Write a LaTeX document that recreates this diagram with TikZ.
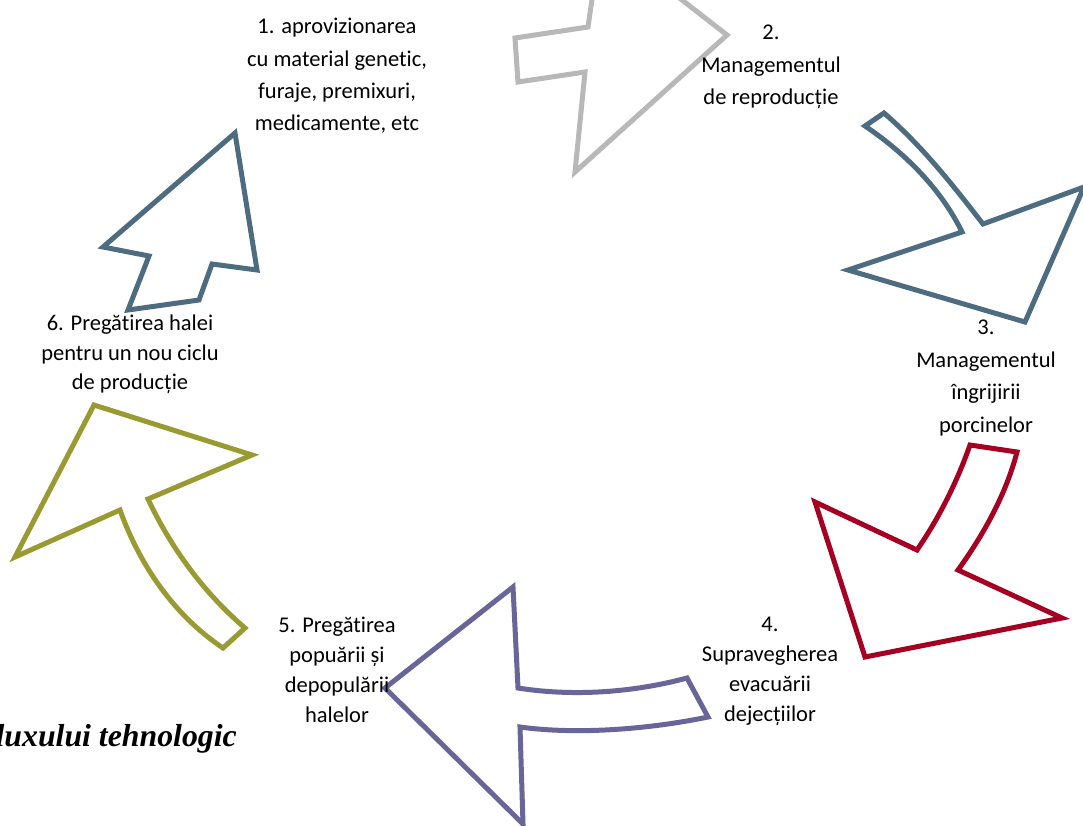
\documentclass[tikz,border=0pt]{standalone}
\usepackage{fontspec}
\setmainfont{Carlito}[Ligatures=CommonOff]
\newfontfamily\capfont{Liberation Serif}
\definecolor{arrgray}{RGB}{184,184,184}
\definecolor{arrslate}{RGB}{78,108,128}
\definecolor{arrred}{RGB}{165,0,33}
\definecolor{arrviolet}{RGB}{104,102,153}
\definecolor{arrolive}{RGB}{154,154,50}
\tikzset{
  blockarrow/.style={draw=#1, line width=5pt, line join=miter, fill=white},
  lbl/.style={font=\fontsize{22.5}{#1}\selectfont, align=center, inner sep=0pt,
    anchor=north, execute at begin node=\strut, execute at end node=\strut},
  lbl/.default=32.4,
  caption/.style={font=\capfont\bfseries\itshape\fontsize{31.8}{38}\selectfont,
    inner sep=0pt, anchor=base east}
}
\begin{document}
\begin{tikzpicture}[x=1pt,y=-1pt]
\useasboundingbox (0,0) rectangle (1083,825);
\fill[white] (0,0) rectangle (1083,825);
\clip (0,0) rectangle (1083,825);

% stage 1 -> 2
\draw[blockarrow=arrgray] (515,38) -- (588,27) -- (601,-63) -- (727,35)
  -- (575,172) -- (585,72) -- (518,82) -- cycle;
% stage 2 -> 3
\draw[blockarrow=arrslate] (865,126) -- (884,113)
  .. controls (922,146) and (952,184) .. (983,224)
  -- (1084,187) -- (1025,322) -- (848,270) -- (962,232)
  .. controls (941,189) and (905,153) .. (865,126) -- cycle;
% stage 3 -> 4
\draw[blockarrow=arrred] (970,445) -- (1017,452)
  .. controls (1006,494) and (984,534) .. (958,570)
  -- (1062,618) -- (865,657) -- (815,502) -- (917,550)
  .. controls (939,518) and (957,482) .. (970,445) -- cycle;
% stage 4 -> 5
\draw[blockarrow=arrviolet] (687,678) -- (708,717)
  .. controls (650,729) and (578,735) .. (520,727)
  -- (523,824) -- (385,688) -- (513,587) -- (518,688)
  .. controls (575,697) and (635,692) .. (687,678) -- cycle;
% stage 5 -> 6
\draw[blockarrow=arrolive] (223,648) -- (245,628)
  .. controls (204,593) and (171,548) .. (148,499)
  -- (252,455) -- (94,405) -- (15,557) -- (120,510)
  .. controls (140,566) and (175,616) .. (223,648) -- cycle;
% stage 6 -> 1
\draw[blockarrow=arrslate] (235,133) -- (257,270) -- (212,264) -- (199,300)
  -- (128,310) -- (149,256) -- (103,247) -- cycle;

% stage labels
\node[lbl] (s1) at (337,18) {1. aprovizionarea\\cu material genetic,\\furaje, premixuri,\\medicamente, etc};
\node[lbl] (s2) at (771,25) {2.\\Managementul\\de reproducție};
\node[lbl] (s3) at (986,320) {3.\\Managementul\\îngrijirii\\porcinelor};
\node[lbl=30] (s4) at (770,617) {4.\\Supravegherea\\evacuării\\dejecțiilor};
\node[lbl=30] (s5) at (337,617) {5. Pregătirea\\popuării și\\depopulării\\halelor};
\node[lbl=29.5] (s6) at (130,315) {6. Pregătirea halei\\pentru un nou ciclu\\de producție};

\node[caption] (cap) at (237,746) {fluxului tehnologic};
\end{tikzpicture}
\end{document}
